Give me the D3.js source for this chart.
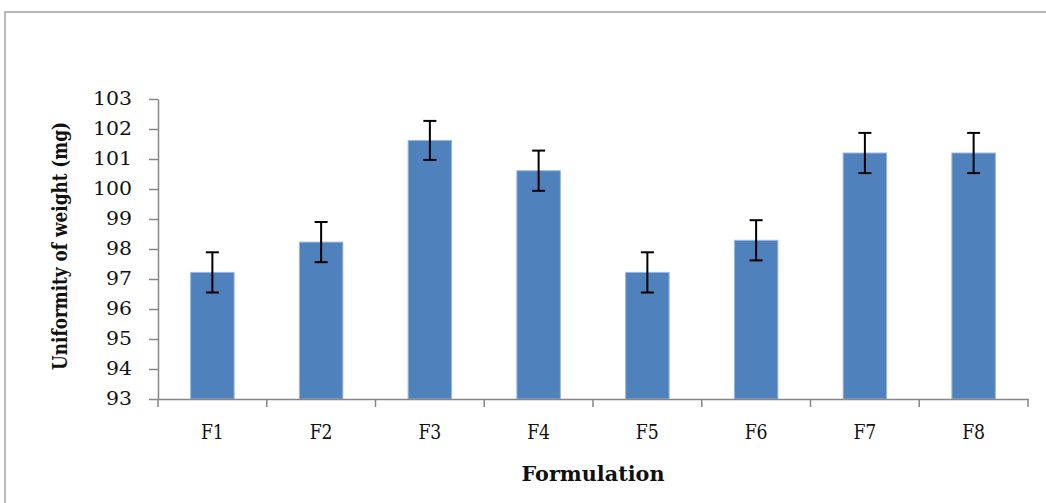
<!DOCTYPE html>
<html>
<head>
<meta charset="utf-8">
<script src="https://cdn.jsdelivr.net/npm/d3@7"></script>
<style>
  body { margin: 0; background: #fff; }
  svg { display: block; }
</style>
</head>
<body>
<svg id="chart" width="1046" height="503"></svg>
<script>
const categories = ["F1", "F2", "F3", "F4", "F5", "F6", "F7", "F8"];
const values = [97.22, 98.23, 101.62, 100.61, 97.22, 98.29, 101.2, 101.2];
const errors = [0.67, 0.67, 0.65, 0.67, 0.67, 0.67, 0.67, 0.67];
const yTicks = [93, 94, 95, 96, 97, 98, 99, 100, 101, 102, 103];
const yLabel = "Uniformity of weight (mg)";
const xLabel = "Formulation";

(function () {
const svg = d3.select("#chart");
const font = "'DejaVu Serif', serif";

// outer frame
svg.append("rect")
  .attr("x", 5).attr("y", 12).attr("width", 1100).attr("height", 600)
  .attr("fill", "none").attr("stroke", "#a0a0a0").attr("stroke-width", 1.5);

const pLeft = 158, pRight = 1028, pTop = 99, pBottom = 399;

const x = d3.scaleBand().domain(categories).range([pLeft, pRight]).paddingInner(0.6).paddingOuter(0.3);
const xb = d3.scaleBand().domain(categories).range([pLeft, pRight]);
const y = d3.scaleLinear().domain([93, 103]).range([pBottom, pTop]);

// bars
svg.append("g").selectAll("rect").data(categories).join("rect")
  .attr("x", d => x(d))
  .attr("width", x.bandwidth())
  .attr("y", (d, i) => y(values[i]))
  .attr("height", (d, i) => y(93) - y(values[i]))
  .attr("fill", "#4F81BD")
  .attr("stroke", "#9db8de").attr("stroke-width", 1);

// y axis
const yAxis = d3.axisLeft(y).tickValues(yTicks).tickSize(9).tickSizeOuter(0).tickPadding(17).tickFormat(d3.format("d"));
const gy = svg.append("g").attr("transform", `translate(${pLeft},0)`).call(yAxis);
gy.select(".domain").attr("stroke", "#868686").attr("stroke-width", 1.5);
gy.selectAll(".tick line").attr("stroke", "#868686").attr("stroke-width", 1.5);
gy.selectAll(".tick text")
  .attr("font-family", font).attr("font-size", 18.5).attr("fill", "#111")
  .attr("textLength", d => String(d).length * 13).attr("lengthAdjust", "spacingAndGlyphs");

// x axis
const xAxis = d3.axisBottom(xb).tickSize(0).tickPadding(26.5);
const gx = svg.append("g").attr("transform", `translate(0,${pBottom})`).call(xAxis);
gx.select(".domain").attr("stroke", "#868686").attr("stroke-width", 1.5);
gx.selectAll(".tick text")
  .attr("font-family", font).attr("font-size", 19.5).attr("fill", "#111")
  .attr("textLength", 23).attr("lengthAdjust", "spacingAndGlyphs");
// x boundary ticks
const bounds = categories.map(c => xb(c)).concat([pRight]);
svg.append("g").selectAll("line").data(bounds).join("line")
  .attr("x1", d => d).attr("x2", d => d)
  .attr("y1", pBottom).attr("y2", pBottom + 8)
  .attr("stroke", "#868686").attr("stroke-width", 1.5);

// error bars
const eg = svg.append("g").attr("stroke", "#000").attr("stroke-width", 2);
categories.forEach((c, i) => {
  const cx = x(c) + x.bandwidth() / 2;
  const hi = y(values[i] + errors[i]), lo = y(values[i] - errors[i]);
  eg.append("line").attr("x1", cx).attr("x2", cx).attr("y1", hi).attr("y2", lo);
  eg.append("line").attr("x1", cx - 6.5).attr("x2", cx + 6.5).attr("y1", hi).attr("y2", hi);
  eg.append("line").attr("x1", cx - 6.5).attr("x2", cx + 6.5).attr("y1", lo).attr("y2", lo);
});

// axis titles
svg.append("text")
  .attr("transform", `translate(67,246) rotate(-90)`)
  .attr("text-anchor", "middle")
  .attr("font-family", font).attr("font-weight", "bold").attr("font-size", 20.5)
  .attr("fill", "#111")
  .attr("textLength", 248).attr("lengthAdjust", "spacingAndGlyphs")
  .text(yLabel);

svg.append("text")
  .attr("x", 593).attr("y", 480.5)
  .attr("text-anchor", "middle")
  .attr("font-family", font).attr("font-weight", "bold").attr("font-size", 21)
  .attr("fill", "#111")
  .attr("textLength", 143).attr("lengthAdjust", "spacingAndGlyphs")
  .text(xLabel);
})();
</script>
</body>
</html>
